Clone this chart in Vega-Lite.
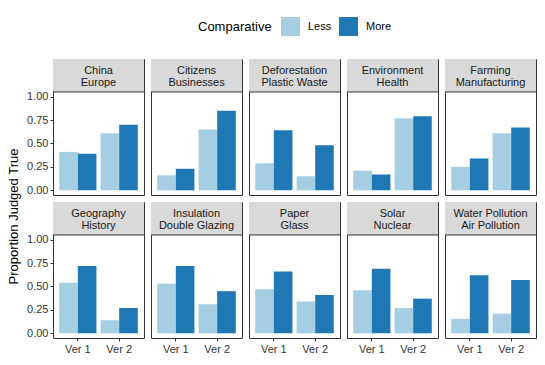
{
  "$schema": "https://vega.github.io/schema/vega-lite/v6.json",
  "padding": {"left": 7, "top": 17, "right": 5, "bottom": 5},
  "bounds": "flush",
  "title": {"text": "Proportion Judged True", "orient": "left", "anchor": "middle", "fontSize": 13, "fontWeight": "normal", "color": "black", "offset": 6, "dx": -31},
  "data": {"values": [
    {"pair": "China\nEurope", "ver": "Ver 1", "comp": "Less", "value": 0.41},
    {"pair": "China\nEurope", "ver": "Ver 1", "comp": "More", "value": 0.39},
    {"pair": "China\nEurope", "ver": "Ver 2", "comp": "Less", "value": 0.61},
    {"pair": "China\nEurope", "ver": "Ver 2", "comp": "More", "value": 0.70},
    {"pair": "Citizens\nBusinesses", "ver": "Ver 1", "comp": "Less", "value": 0.16},
    {"pair": "Citizens\nBusinesses", "ver": "Ver 1", "comp": "More", "value": 0.23},
    {"pair": "Citizens\nBusinesses", "ver": "Ver 2", "comp": "Less", "value": 0.65},
    {"pair": "Citizens\nBusinesses", "ver": "Ver 2", "comp": "More", "value": 0.85},
    {"pair": "Deforestation\nPlastic Waste", "ver": "Ver 1", "comp": "Less", "value": 0.29},
    {"pair": "Deforestation\nPlastic Waste", "ver": "Ver 1", "comp": "More", "value": 0.64},
    {"pair": "Deforestation\nPlastic Waste", "ver": "Ver 2", "comp": "Less", "value": 0.15},
    {"pair": "Deforestation\nPlastic Waste", "ver": "Ver 2", "comp": "More", "value": 0.48},
    {"pair": "Environment\nHealth", "ver": "Ver 1", "comp": "Less", "value": 0.21},
    {"pair": "Environment\nHealth", "ver": "Ver 1", "comp": "More", "value": 0.17},
    {"pair": "Environment\nHealth", "ver": "Ver 2", "comp": "Less", "value": 0.77},
    {"pair": "Environment\nHealth", "ver": "Ver 2", "comp": "More", "value": 0.79},
    {"pair": "Farming\nManufacturing", "ver": "Ver 1", "comp": "Less", "value": 0.25},
    {"pair": "Farming\nManufacturing", "ver": "Ver 1", "comp": "More", "value": 0.34},
    {"pair": "Farming\nManufacturing", "ver": "Ver 2", "comp": "Less", "value": 0.61},
    {"pair": "Farming\nManufacturing", "ver": "Ver 2", "comp": "More", "value": 0.67},
    {"pair": "Geography\nHistory", "ver": "Ver 1", "comp": "Less", "value": 0.54},
    {"pair": "Geography\nHistory", "ver": "Ver 1", "comp": "More", "value": 0.72},
    {"pair": "Geography\nHistory", "ver": "Ver 2", "comp": "Less", "value": 0.14},
    {"pair": "Geography\nHistory", "ver": "Ver 2", "comp": "More", "value": 0.27},
    {"pair": "Insulation\nDouble Glazing", "ver": "Ver 1", "comp": "Less", "value": 0.53},
    {"pair": "Insulation\nDouble Glazing", "ver": "Ver 1", "comp": "More", "value": 0.72},
    {"pair": "Insulation\nDouble Glazing", "ver": "Ver 2", "comp": "Less", "value": 0.31},
    {"pair": "Insulation\nDouble Glazing", "ver": "Ver 2", "comp": "More", "value": 0.45},
    {"pair": "Paper\nGlass", "ver": "Ver 1", "comp": "Less", "value": 0.47},
    {"pair": "Paper\nGlass", "ver": "Ver 1", "comp": "More", "value": 0.66},
    {"pair": "Paper\nGlass", "ver": "Ver 2", "comp": "Less", "value": 0.34},
    {"pair": "Paper\nGlass", "ver": "Ver 2", "comp": "More", "value": 0.41},
    {"pair": "Solar\nNuclear", "ver": "Ver 1", "comp": "Less", "value": 0.46},
    {"pair": "Solar\nNuclear", "ver": "Ver 1", "comp": "More", "value": 0.69},
    {"pair": "Solar\nNuclear", "ver": "Ver 2", "comp": "Less", "value": 0.27},
    {"pair": "Solar\nNuclear", "ver": "Ver 2", "comp": "More", "value": 0.37},
    {"pair": "Water Pollution\nAir Pollution", "ver": "Ver 1", "comp": "Less", "value": 0.155},
    {"pair": "Water Pollution\nAir Pollution", "ver": "Ver 1", "comp": "More", "value": 0.62},
    {"pair": "Water Pollution\nAir Pollution", "ver": "Ver 2", "comp": "Less", "value": 0.21},
    {"pair": "Water Pollution\nAir Pollution", "ver": "Ver 2", "comp": "More", "value": 0.57}
  ]},
  "facet": {
    "field": "pair", "type": "nominal",
    "header": {"labels": false, "labelExpr": "''", "labelPadding": 0, "labelFontSize": 1, "title": null}
  },
  "columns": 5,
  "spacing": 7,
  "spec": {
    "width": 91,
    "height": 136,
    "layer": [
      {
        "mark": {"type": "bar", "strokeWidth": 0},
        "encoding": {
          "x": {"field": "ver", "type": "nominal", "title": null,
                "scale": {"paddingInner": 0.1, "paddingOuter": 0.15},
                "axis": {"labelAngle": 0, "domain": false, "tickSize": 3, "tickColor": "#333", "labelColor": "#333", "labelFontSize": 11, "labelPadding": 2}},
          "xOffset": {"field": "comp", "type": "nominal", "scale": {"paddingInner": 0, "paddingOuter": 0}},
          "y": {"field": "value", "type": "quantitative", "title": null,
                "scale": {"domain": [-0.05, 1.402], "nice": false, "zero": false},
                "axis": {"values": [0, 0.25, 0.5, 0.75, 1], "labelOverlap": false, "format": ".2f", "grid": false, "domain": false, "tickSize": 3, "tickColor": "#333", "labelColor": "#333", "labelFontSize": 11, "labelPadding": 2}},
          "color": {"field": "comp", "type": "nominal",
                    "scale": {"domain": ["Less", "More"], "range": ["#a6cee3", "#1f78b4"]},
                    "legend": {"title": "Comparative", "orient": "none", "legendX": 145, "legendY": -42, "direction": "horizontal", "titleOrient": "left", "symbolType": "square", "symbolSize": 361, "symbolStrokeWidth": 0, "labelFontSize": 11, "labelOffset": 8, "columnPadding": 7, "titleFontSize": 13, "titleFontWeight": "normal", "titleColor": "black", "labelColor": "black", "titlePadding": 9}}
        }
      },
      {
        "transform": [{"filter": "datum.ver == 'Ver 1' && datum.comp == 'Less'"}],
        "mark": {"type": "rect", "fill": "#d9d9d9"},
        "encoding": {"y": {"datum": 1.05, "axis": {"values": [0, 0.25, 0.5, 0.75, 1], "labelOverlap": false, "format": ".2f", "grid": false, "domain": false, "tickSize": 3, "tickColor": "#333", "labelColor": "#333", "labelFontSize": 11, "labelPadding": 2}}, "y2": {"datum": 1.402}}
      },
      {
        "transform": [{"filter": "datum.ver == 'Ver 1' && datum.comp == 'Less'"}],
        "mark": {"type": "rule", "color": "#333", "strokeWidth": 1},
        "encoding": {"y": {"datum": 1.05, "axis": {"values": [0, 0.25, 0.5, 0.75, 1], "labelOverlap": false, "format": ".2f", "grid": false, "domain": false, "tickSize": 3, "tickColor": "#333", "labelColor": "#333", "labelFontSize": 11, "labelPadding": 2}}}
      },
      {
        "transform": [{"filter": "datum.ver == 'Ver 1' && datum.comp == 'Less'"}],
        "mark": {"type": "text", "lineBreak": "\n", "fontSize": 11, "lineHeight": 12, "color": "#1a1a1a", "baseline": "middle"},
        "encoding": {"y": {"datum": 1.272, "axis": {"values": [0, 0.25, 0.5, 0.75, 1], "labelOverlap": false, "format": ".2f", "grid": false, "domain": false, "tickSize": 3, "tickColor": "#333", "labelColor": "#333", "labelFontSize": 11, "labelPadding": 2}}, "text": {"field": "pair"}}
      }
    ]
  },
  "config": {
    "font": "Liberation Sans",
    "header": {"labels": false},
    "view": {"stroke": "#333", "strokeWidth": 1}
  }
}
